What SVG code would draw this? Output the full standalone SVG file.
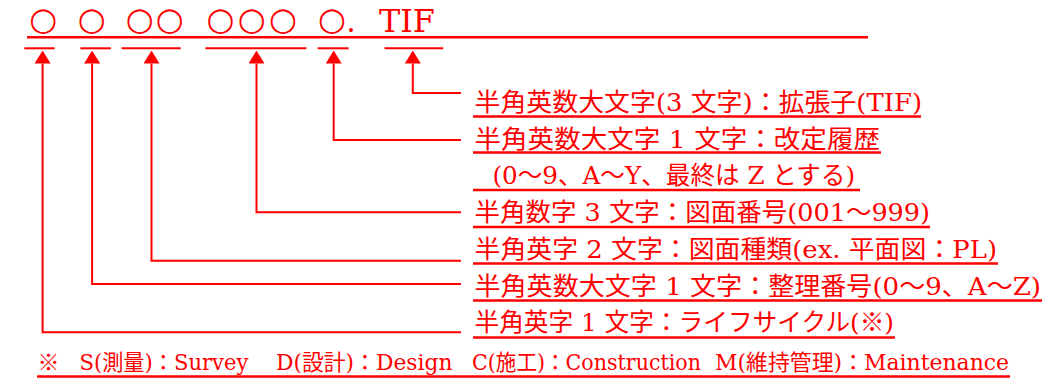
<svg xmlns="http://www.w3.org/2000/svg" width="1059" height="381" viewBox="0 0 1059 381">
<style>
  .t { font-family: "DejaVu Serif", "Noto Sans CJK JP", serif; fill: #ff0000; }
  .row { font-size: 25px; }
  .foot { font-size: 22px; }
  .cjk { font-family: "Noto Sans CJK JP", sans-serif; }
  .circ { font-family: "DejaVu Sans", sans-serif; font-size: 32px; fill: #ff0000; text-anchor: middle; }
  .ul { stroke: #ff0000; stroke-width: 2.4; fill: none; }
  .ln { stroke: #ff0000; stroke-width: 2; fill: none; }
  .conn { stroke: #ff0000; stroke-width: 2; fill: none; marker-start: url(#arrow); }
</style>
<defs>
  <marker id="arrow" markerUnits="userSpaceOnUse" viewBox="0 -8 13 16" markerWidth="13" markerHeight="16" refX="0" refY="0" orient="auto-start-reverse">
    <path d="M0,-8 L13,0 L0,8 Z" fill="#ff0000"/>
  </marker>
</defs>
<rect width="1059" height="381" fill="#ffffff"/>

<g id="filename">
  <text class="circ" x="43.2" y="29.8">○</text>
  <text class="circ" x="91.7" y="29.8">○</text>
  <text class="circ" x="139.7 169.7" y="29.8">○○</text>
  <text class="circ" x="220.4 251.7 283" y="29.8">○○○</text>
  <text class="circ" x="332 351" y="29.8">○<tspan class="t" style="font-size:30px" dy="2">.</tspan></text>
  <text class="t" x="379" y="32" style="font-size:32px" textLength="56" lengthAdjust="spacingAndGlyphs">TIF</text>
  <line class="ul" x1="27" y1="37.2" x2="868" y2="37.2"/>
</g>

<g id="brackets">
  <line class="ln" x1="24.3" y1="48.3" x2="54.7" y2="48.3"/>
  <line class="ln" x1="80.4" y1="48.3" x2="110.8" y2="48.3"/>
  <line class="ln" x1="121.6" y1="48.3" x2="180.7" y2="48.3"/>
  <line class="ln" x1="205.4" y1="48.3" x2="306.4" y2="48.3"/>
  <line class="ln" x1="317.6" y1="48.3" x2="348.6" y2="48.3"/>
  <line class="ln" x1="384.5" y1="48.3" x2="443.2" y2="48.3"/>
</g>

<g id="connectors">
  <polyline class="conn" points="412.8,63.5 412.8,93 461,93"/>
  <polyline class="conn" points="333.7,63.5 333.7,140 461,140"/>
  <polyline class="conn" points="256.5,63.5 256.5,212.3 461,212.3"/>
  <polyline class="conn" points="151.5,63.5 151.5,260.7 461,260.7"/>
  <polyline class="conn" points="92.1,63.5 92.1,284 461,284"/>
  <polyline class="conn" points="42.6,63.5 42.6,332.3 461,332.3"/>
</g>

<g id="label-extension">
  <text class="t row" x="474.5" y="111" textLength="447.5" lengthAdjust="spacingAndGlyphs">半角英数大文字(3 文字)：拡張子(TIF)</text>
  <line class="ul" x1="473" y1="116.5" x2="921" y2="116.5"/>
</g>

<g id="label-revision">
  <text class="t row" x="474.5" y="147.7" textLength="405.5" lengthAdjust="spacingAndGlyphs">半角英数大文字 1 文字：改定履歴</text>
  <line class="ul" x1="473" y1="152.5" x2="881" y2="152.5"/>
  <text class="t row" x="492.5" y="184.4" textLength="362.5" lengthAdjust="spacingAndGlyphs">(0～9、A～Y、最終は Z とする)</text>
  <line class="ul" x1="473" y1="190" x2="860" y2="190"/>
</g>

<g id="label-drawing-number">
  <text class="t row" x="474.5" y="221.1" textLength="455.5" lengthAdjust="spacingAndGlyphs">半角数字 3 文字：図面番号(001～999)</text>
  <line class="ul" x1="473" y1="227" x2="930" y2="227"/>
</g>

<g id="label-drawing-type">
  <text class="t row" x="474.5" y="257.8" textLength="522.5" lengthAdjust="spacingAndGlyphs">半角英字 2 文字：図面種類(ex. 平面図：PL)</text>
  <line class="ul" x1="473" y1="263.5" x2="998" y2="263.5"/>
</g>

<g id="label-sequence">
  <text class="t row" x="474.5" y="294.5" textLength="566.5" lengthAdjust="spacingAndGlyphs">半角英数大文字 1 文字：整理番号(0～9、A～Z)</text>
  <line class="ul" x1="473" y1="300.5" x2="1042" y2="300.5"/>
</g>

<g id="label-lifecycle">
  <text class="t row" x="474.5" y="331.2" textLength="419.5" lengthAdjust="spacingAndGlyphs">半角英字 1 文字：ライフサイクル(※)</text>
  <line class="ul" x1="473" y1="337.5" x2="895" y2="337.5"/>
</g>

<g id="footnote">
  <text class="t foot cjk" x="37.5" y="370.4">※</text>
  <text class="t foot" x="79.5" y="370.4" textLength="169" lengthAdjust="spacingAndGlyphs">S(測量)：Survey</text>
  <text class="t foot" x="276" y="370.4" textLength="176.5" lengthAdjust="spacingAndGlyphs">D(設計)：Design</text>
  <text class="t foot" x="472" y="370.4" textLength="229" lengthAdjust="spacingAndGlyphs">C(施工)：Construction</text>
  <text class="t foot" x="715" y="370.4" textLength="294" lengthAdjust="spacingAndGlyphs">M(維持管理)：Maintenance</text>
  <line class="ul" x1="37" y1="376.5" x2="1010" y2="376.5"/>
</g>
</svg>
